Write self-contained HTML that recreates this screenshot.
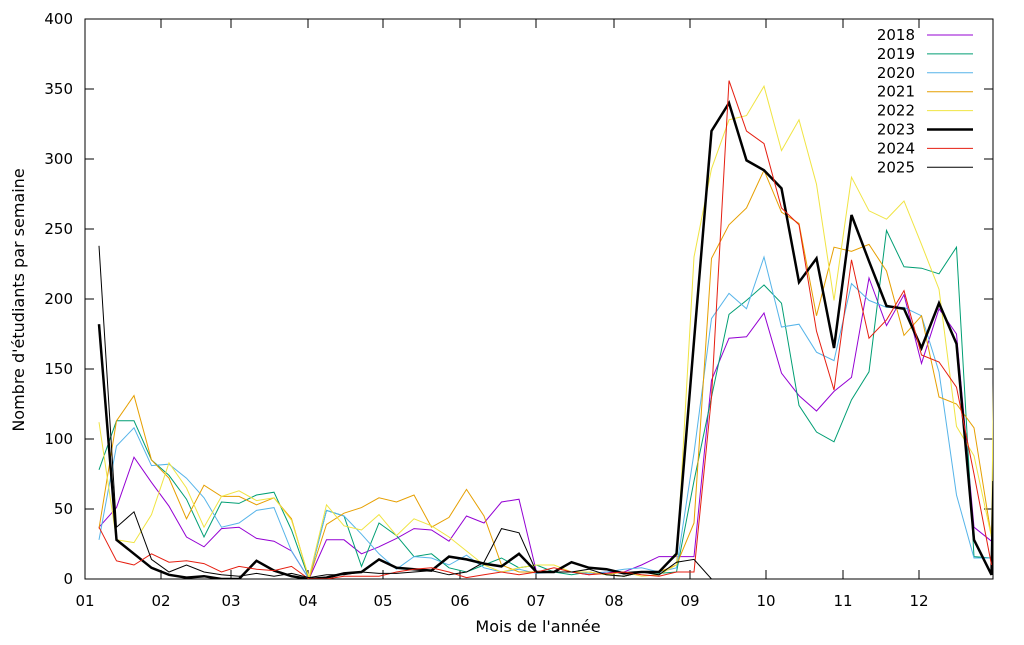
<!DOCTYPE html>
<html><head><meta charset="utf-8"><style>
body{margin:0;background:#fff}
svg text{font-family:"DejaVu Sans","Liberation Sans",sans-serif;font-size:15px;fill:#000}
</style></head><body>
<svg id="s" width="1024" height="640" xmlns="http://www.w3.org/2000/svg"></svg>
<script>
const s=document.getElementById('s');
let h='';
const L=85,R=993,T=19,B=579;
const Y=v=>B-1.4*v;
h+=`<defs><clipPath id="c"><rect x="${L}" y="${T}" width="${R-L}" height="${B-T}"/></clipPath></defs>`;
h+=`<rect x="${L}" y="${T}" width="${R-L}" height="${B-T}" fill="none" stroke="#000" stroke-width="1"/>`;
for(let v=0;v<=400;v+=50){const y=Y(v);
h+=`<line x1="${L}" y1="${y}" x2="${L+9}" y2="${y}" stroke="#000"/><line x1="${R}" y1="${y}" x2="${R-9}" y2="${y}" stroke="#000"/>`;
h+=`<text x="73" y="${y+5}" text-anchor="end">${v}</text>`;}
const mx=[85,161,231,308,383,460,536,614,690,766,843,919];
mx.forEach((x,i)=>{const l=String(i+1).padStart(2,'0');
h+=`<line x1="${x}" y1="${B}" x2="${x}" y2="${B-9}" stroke="#000"/><line x1="${x}" y1="${T}" x2="${x}" y2="${T+9}" stroke="#000"/>`;
h+=`<text x="${x}" y="606" text-anchor="middle">${l}</text>`;});
h+=`<text x="538" y="632" text-anchor="middle" style="font-size:16px">Mois de l'année</text>`;
h+=`<text transform="translate(24,300) rotate(-90)" text-anchor="middle" style="font-size:16px">Nombre d'étudiants par semaine</text>`;
const S=[
['2018','#9400d3',1,[37,51,87,69,52,30,23,36,37,29,27,20,0,28,28,18,23,29,36,35,27,45,40,55,57,5,5,5,3,5,5,10,16,16,16,142,172,173,190,147,131,120,134,144,215,181,203,154,193,175,37,27]],
['2019','#009e73',1,[78,113,113,85,74,57,30,55,54,60,62,35,0,49,45,9,40,31,16,18,8,5,10,15,8,10,5,3,5,3,2,5,4,5,70,130,189,199,210,197,124,105,98,128,148,249,223,222,218,237,16,15]],
['2020','#56b4e9',1,[28,95,108,81,82,72,58,37,40,49,51,20,0,49,45,32,18,7,16,15,10,17,8,5,7,4,5,5,4,5,7,8,5,8,90,186,204,193,230,180,182,162,156,211,199,194,194,188,148,60,15,15]],
['2021','#e69f00',1,[36,113,131,85,72,43,67,59,59,53,58,43,0,39,47,51,58,55,60,37,44,64,45,10,5,5,5,5,5,3,2,5,5,10,40,229,253,265,292,262,254,188,237,234,239,220,174,188,130,125,108,30]],
['2022','#f0e442',1,[112,28,26,46,83,65,37,59,63,56,58,42,1,53,38,35,46,31,43,38,30,20,10,5,8,10,10,5,5,3,5,2,3,10,230,293,328,331,352,306,328,282,199,287,263,257,270,239,207,109,88,30,140]],
['2023','#000',2.5,[182,28,18,8,3,1,2,0,0,13,6,2,0,1,4,5,14,8,7,6,16,14,11,9,18,5,5,12,8,7,4,5,5,18,170,320,340,299,292,279,212,229,165,260,227,195,193,165,197,168,28,3,70]],
['2024','#e51e10',1,[37,13,10,18,12,13,11,5,9,7,6,9,0,0,2,2,2,5,7,8,5,1,3,5,3,5,8,5,3,4,5,3,2,5,5,130,356,320,311,265,253,177,135,228,172,185,206,160,155,137,75,10]],
['2025','#000',1,[238,37,48,14,5,10,5,3,2,4,2,4,1,3,3,5,4,4,5,6,3,5,12,36,33,5,5,5,7,3,2,5,3,12,14,0]]
];
S.forEach(([n,c,w,d],k)=>{
const pts=d.map((v,i)=>{let x=i<52?99+17.5*i:993.5;return x.toFixed(1)+','+Y(v).toFixed(1)}).join(' ');
h+=`<polyline clip-path="url(#c)" points="${pts}" fill="none" stroke="${c}" stroke-width="${w}" stroke-linejoin="miter"/>`;
const y=35+k*18.9;
h+=`<text x="915" y="${y+5}" text-anchor="end">${n}</text><line x1="927" y1="${y}" x2="973" y2="${y}" stroke="${c}" stroke-width="${w}"/>`;
});
s.innerHTML=h;
</script>
</body></html>
